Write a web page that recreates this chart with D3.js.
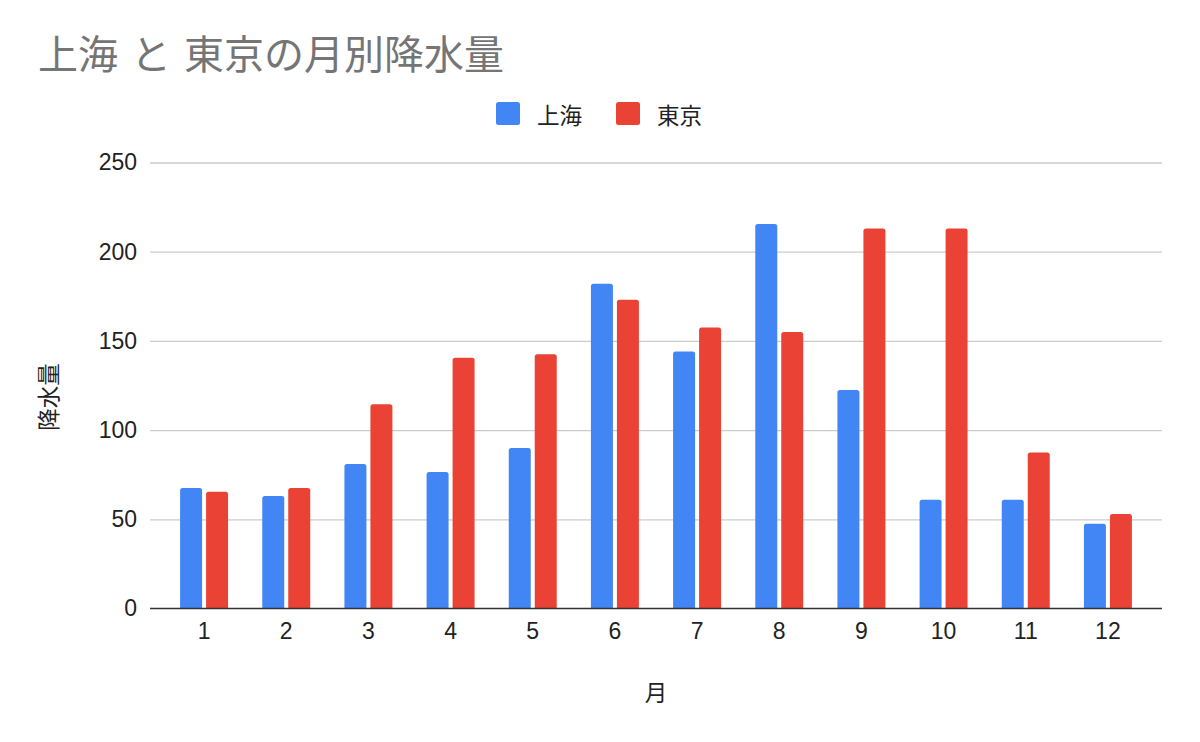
<!DOCTYPE html>
<html>
<head>
<meta charset="utf-8">
<script src="https://cdn.jsdelivr.net/npm/d3@7"></script>
<style>
  html, body { margin: 0; padding: 0; background: #fff; }
  svg { display: block; }
</style>
</head>
<body>
<svg id="chart" width="1200" height="742"></svg>
<script>
const months = ["1","2","3","4","5","6","7","8","9","10","11","12"];
const seriesNames = ["上海", "東京"];
const shanghai = [67.5, 63, 81, 76.5, 90, 182, 144, 215.5, 122.5, 61, 61, 47.5];
const tokyo = [65.5, 67.5, 114.5, 140.5, 142.5, 173, 157.5, 155, 213, 213, 87.5, 53];
const yTicks = [0, 50, 100, 150, 200, 250];
const colors = ["#4285F4", "#EA4335"];
const titleText = "上海 と 東京の月別降水量";
const xTitle = "月";
const yTitle = "降水量";

const cjk = "'Noto Sans CJK JP', 'Noto Sans', sans-serif";
const latin = "'Liberation Sans', Arial, sans-serif";

const svg = d3.select("#chart");
const plot = { left: 150, right: 1162, top: 162.5, bottom: 608.5 };

const x = d3.scaleBand().domain(months).range([163, 1149]).paddingInner(0.416).paddingOuter(0.208);
const xs = d3.scaleBand().domain(seriesNames).range([0, x.bandwidth()]).paddingInner(4 / 26);
const y = d3.scaleLinear().domain([0, 250]).range([plot.bottom, plot.top]);

// Title
svg.append("text").attr("x", 38).attr("y", 69)
  .attr("font-family", cjk).attr("font-size", 40).attr("fill", "#757575")
  .attr("word-spacing", 4)
  .text(titleText);

// Legend
const legendItems = [
  { name: seriesNames[0], color: colors[0], sx: 496, tx: 537 },
  { name: seriesNames[1], color: colors[1], sx: 616, tx: 657 }
];
const lg = svg.append("g");
legendItems.forEach(d => {
  lg.append("rect").attr("x", d.sx).attr("y", 102).attr("width", 24).attr("height", 23)
    .attr("rx", 2.5).attr("fill", d.color);
  lg.append("text").attr("x", d.tx).attr("y", 113.5).attr("dominant-baseline", "central")
    .attr("font-family", cjk).attr("font-size", 22.5).attr("fill", "#222").text(d.name);
});

// Gridlines
const yAxis = d3.axisLeft(y).tickValues(yTicks).tickSize(-(plot.right - plot.left)).tickPadding(12);
const gy = svg.append("g").attr("transform", `translate(${plot.left},0)`).call(yAxis);
gy.select(".domain").remove();
gy.selectAll(".tick line").attr("stroke", "#cccccc").attr("stroke-width", 1.3)
  .filter(d => d === 0).remove();
gy.selectAll(".tick text").attr("font-family", latin).attr("font-size", 23).attr("fill", "#222")
  .attr("x", -13);

// Bars with rounded top corners
function barPath(x0, w, yTop, yBase, r) {
  r = Math.min(r, w / 2, (yBase - yTop));
  return `M${x0},${yBase}V${yTop + r}Q${x0},${yTop} ${x0 + r},${yTop}H${x0 + w - r}Q${x0 + w},${yTop} ${x0 + w},${yTop + r}V${yBase}Z`;
}
const data = [];
months.forEach((m, i) => {
  data.push({ m, s: seriesNames[0], v: shanghai[i], c: colors[0] });
  data.push({ m, s: seriesNames[1], v: tokyo[i], c: colors[1] });
});
svg.append("g").selectAll("path").data(data).join("path")
  .attr("d", d => barPath(x(d.m) + xs(d.s), xs.bandwidth(), y(d.v), y(0), 2.5))
  .attr("fill", d => d.c);

// X axis
const xAxis = d3.axisBottom(x).tickSize(0).tickPadding(14);
const gx = svg.append("g").attr("transform", `translate(0,${plot.bottom})`).call(xAxis);
gx.select(".domain").remove();
gx.selectAll(".tick text").attr("font-family", latin).attr("font-size", 23).attr("fill", "#222");
svg.append("line").attr("x1", plot.left).attr("x2", plot.right)
  .attr("y1", plot.bottom).attr("y2", plot.bottom)
  .attr("stroke", "#333").attr("stroke-width", 1.5);

// Axis titles
svg.append("text").attr("x", 656).attr("y", 691).attr("text-anchor", "middle")
  .attr("dominant-baseline", "central")
  .attr("font-family", cjk).attr("font-size", 22.5).attr("fill", "#222").text(xTitle);
svg.append("text").attr("transform", "translate(47,397) rotate(-90)")
  .attr("text-anchor", "middle").attr("dominant-baseline", "central")
  .attr("font-family", cjk).attr("font-size", 22.5).attr("fill", "#222").text(yTitle);
</script>
</body>
</html>
